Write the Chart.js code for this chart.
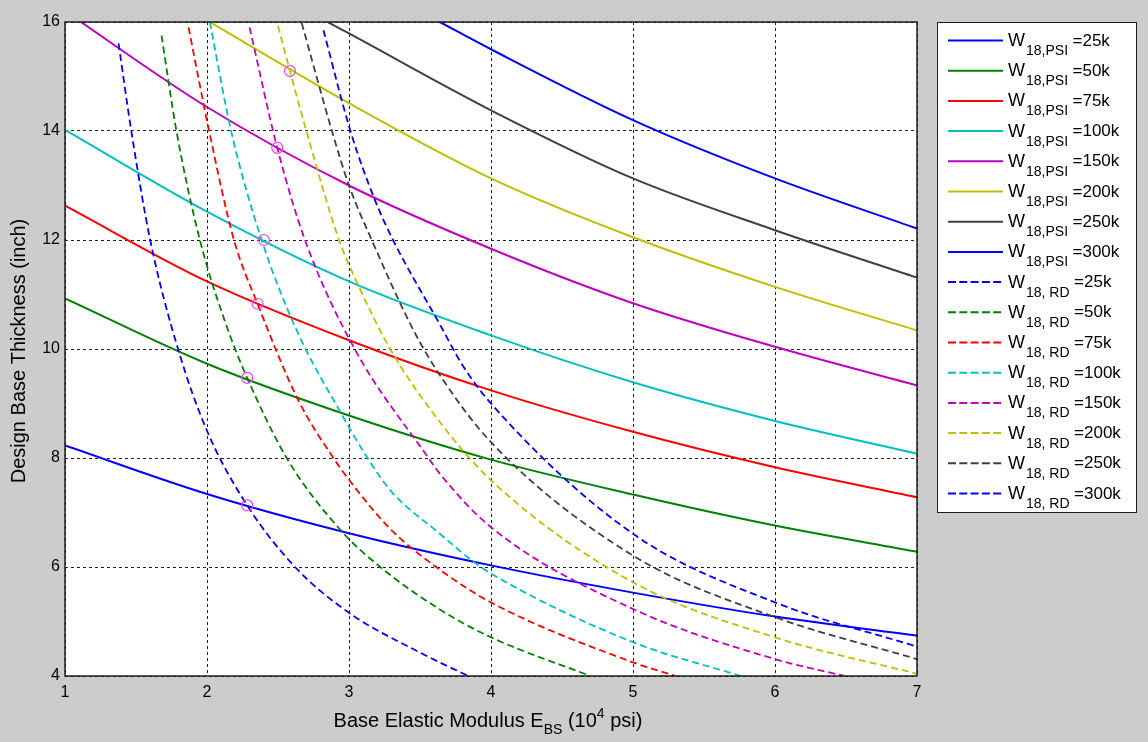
<!DOCTYPE html>
<html>
<head>
<meta charset="utf-8">
<script src="https://cdn.jsdelivr.net/npm/chart.js@4.4.1/dist/chart.umd.min.js"></script>
<style>
  html, body { margin: 0; padding: 0; background: #cccccc; }
</style>
</head>
<body>
<canvas id="chart" width="1148" height="742"></canvas>
<script>
// W18 loads, one solid (PSI) and one dashed (RD) curve per load
const loads = ['25k', '50k', '75k', '100k', '150k', '200k', '250k', '300k'];
const colors = ['#0000ff', '#008000', '#ff0000', '#00bfbf', '#bf00bf', '#bfbf00', '#404040', '#0000ff'];

// [E_BS (10^4 psi), thickness (inch)]
const psi25  = [[1, 8.23], [2, 7.34], [3, 6.62], [4, 6.03], [5, 5.53], [6, 5.09], [7, 4.74]];
const psi50  = [[1, 10.93], [2, 9.73], [3, 8.78], [4, 7.97], [5, 7.33], [6, 6.76], [7, 6.28]];
const psi75  = [[1, 12.63], [2, 11.24], [3, 10.16], [4, 9.24], [5, 8.48], [6, 7.83], [7, 7.28]];
const psi100 = [[1, 14.02], [2, 12.52], [3, 11.24], [4, 10.25], [5, 9.39], [6, 8.68], [7, 8.08]];
const psi150 = [[1, 16.2], [2, 14.44], [3, 13.0], [4, 11.84], [5, 10.84], [6, 10.04], [7, 9.33]];
const psi200 = [[1.98, 16.06], [3, 14.51], [4, 13.13], [5, 12.05], [6, 11.14], [7, 10.34]];
const psi250 = [[2.85, 16.0], [3, 15.79], [4, 14.38], [5, 13.13], [6, 12.18], [7, 11.31]];
const psi300 = [[3.64, 16.0], [4, 15.5], [5, 14.2], [6, 13.13], [7, 12.21]];

const rd25  = [[1.377, 15.61], [1.467, 14], [1.6, 12], [1.796, 10], [2.0, 8.5], [2.283, 7.13], [2.62, 6.0], [3.0, 5.16], [3.5, 4.43], [3.84, 4.0]];
const rd50  = [[1.68, 15.75], [1.785, 14], [1.95, 12], [2.149, 10.34], [2.283, 9.47], [2.561, 8.0], [2.95, 6.65], [3.22, 6.0], [3.64, 5.22], [4.0, 4.71], [4.7, 4.0]];
const rd75  = [[1.87, 15.9], [2.015, 14], [2.19, 12], [2.356, 10.83], [2.643, 9.06], [2.89, 8.0], [3.0, 7.6], [3.29, 6.7], [3.64, 5.95], [4.0, 5.35], [5.0, 4.25], [5.3, 4.0]];
const rd100 = [[2.02, 16.0], [2.17, 14], [2.385, 12], [2.632, 10.34], [2.94, 8.84], [3.13, 8.0], [3.3, 7.38], [3.64, 6.61], [3.855, 6.14], [4.0, 5.88], [5.0, 4.62], [5.76, 4.0]];
const rd150 = [[2.3, 15.9], [2.495, 13.69], [2.69, 12], [3.04, 10], [3.56, 8.0], [3.64, 7.71], [4.0, 6.73], [5.0, 5.23], [6.0, 4.31], [6.49, 4.0]];
const rd200 = [[2.5, 15.93], [2.584, 15.1], [2.7, 14], [2.93, 12], [3.065, 11.17], [3.29, 10], [3.64, 8.66], [4.0, 7.59], [5.0, 5.72], [6.0, 4.71], [7.0, 4.04]];
const rd250 = [[2.667, 15.98], [2.88, 14], [3.0, 13.0], [3.16, 12], [3.455, 10.34], [3.64, 9.52], [4.0, 8.29], [5.0, 6.21], [6.0, 5.08], [7.0, 4.31]];
const rd300 = [[2.82, 15.85], [3.01, 14], [3.18, 12.75], [3.31, 12], [3.64, 10.45], [3.8, 9.7], [4.0, 9.0], [5.0, 6.61], [6.0, 5.35], [7.0, 4.54]];

// design points where the PSI and RD curves of the same load cross
const crossings = [[2.283, 7.13], [2.283, 9.47], [2.356, 10.83], [2.4, 12.0], [2.495, 13.69], [2.584, 15.1]];

const xTicks = [1, 2, 3, 4, 5, 6, 7];
const yTicks = [4, 6, 8, 10, 12, 14, 16];

const psiCurves = [psi25, psi50, psi75, psi100, psi150, psi200, psi250, psi300];
const rdCurves = [rd25, rd50, rd75, rd100, rd150, rd200, rd250, rd300];

const FONT = "'Liberation Sans', Arial, Helvetica, sans-serif";
const DASH = [7, 4];
const toPts = arr => arr.map(p => ({ x: p[0], y: p[1] }));

const datasets = [];
psiCurves.forEach((d, i) => datasets.push({
  label: 'W18,PSI =' + loads[i], sub: '18,PSI', tail: '=' + loads[i],
  data: toPts(d), borderColor: colors[i], borderWidth: 2, showLine: true,
  pointRadius: 0, cubicInterpolationMode: 'monotone', clip: 0, order: 2
}));
rdCurves.forEach((d, i) => datasets.push({
  label: 'W18, RD =' + loads[i], sub: '18, RD', tail: '=' + loads[i],
  data: toPts(d), borderColor: colors[i], borderWidth: 1.8, borderDash: DASH, showLine: true,
  pointRadius: 0, cubicInterpolationMode: 'monotone', clip: 0, order: 1
}));
datasets.push({
  label: 'design', data: toPts(crossings), showLine: false, pointRadius: 5.5,
  pointBorderColor: '#ff3cff', pointBackgroundColor: 'rgba(0,0,0,0)', pointBorderWidth: 1.2, order: 0
});

function drawParts(ctx, parts, x, y) {
  parts.forEach(p => {
    ctx.font = p[1] + 'px ' + FONT;
    ctx.fillText(p[0], x, y + p[2]);
    x += ctx.measureText(p[0]).width;
  });
  return x;
}
function partsWidth(ctx, parts) {
  let w = 0;
  parts.forEach(p => { ctx.font = p[1] + 'px ' + FONT; w += ctx.measureText(p[0]).width; });
  return w;
}

const paper = {
  id: 'paper',
  beforeDraw(chart) {
    const { ctx, chartArea: a } = chart;
    ctx.save();
    ctx.fillStyle = '#cccccc';
    ctx.fillRect(0, 0, chart.width, chart.height);
    ctx.fillStyle = '#ffffff';
    ctx.fillRect(a.left, a.top, a.right - a.left, a.bottom - a.top);
    ctx.restore();
  },
  afterDatasetsDraw(chart) {
    const { ctx, chartArea: a } = chart;
    ctx.save();
    ctx.strokeStyle = '#1e1e1e';
    ctx.lineWidth = 1.5;
    ctx.strokeRect(a.left, a.top, a.right - a.left, a.bottom - a.top);
    ctx.restore();
  },
  afterDraw(chart) {
    const { ctx, chartArea: a } = chart;
    ctx.save();
    ctx.fillStyle = '#000';
    ctx.textBaseline = 'alphabetic';
    ctx.textAlign = 'left';

    // x axis title with subscript and superscript
    const xParts = [['Base Elastic Modulus E', 20, 0], ['BS', 14, 7], [' (10', 20, 0], ['4', 14, -9], [' psi)', 20, 0]];
    const w = partsWidth(ctx, xParts);
    drawParts(ctx, xParts, (a.left + a.right) / 2 - 3 - w / 2, 727);

    // y axis title
    ctx.save();
    ctx.translate(25, (a.top + a.bottom) / 2 + 2);
    ctx.rotate(-Math.PI / 2);
    ctx.textAlign = 'center';
    ctx.font = '20px ' + FONT;
    ctx.fillText('Design Base Thickness (inch)', 0, 0);
    ctx.restore();

    // legend box
    const lx = 937, ly = 22, lw = 199, lh = 490;
    ctx.fillStyle = '#ffffff';
    ctx.fillRect(lx, ly, lw, lh);
    ctx.strokeStyle = '#1e1e1e';
    ctx.lineWidth = 1;
    ctx.strokeRect(lx + 0.5, ly + 0.5, lw, lh);
    chart.data.datasets.forEach((ds, i) => {
      if (!ds.sub) return;
      const y = 40.5 + 30.2 * i;
      ctx.save();
      ctx.strokeStyle = ds.borderColor;
      ctx.lineWidth = 2;
      ctx.setLineDash(ds.borderDash ? [8, 3.3] : []);
      ctx.beginPath();
      ctx.moveTo(948, y);
      ctx.lineTo(1003, y);
      ctx.stroke();
      ctx.restore();
      ctx.fillStyle = '#000';
      ctx.textAlign = 'left';
      let x = drawParts(ctx, [['W', 18, 0]], 1008, y + 5.5);
      x = drawParts(ctx, [[ds.sub, 14, 0]], x + 1, y + 14.5);
      drawParts(ctx, [[ds.tail, 17, 0]], x + 4.5, y + 5);
    });
    ctx.restore();
  }
};

new Chart(document.getElementById('chart'), {
  type: 'scatter',
  data: { datasets: datasets },
  options: {
    responsive: false,
    animation: false,
    events: [],
    layout: { padding: { left: 0, top: 22, right: 231, bottom: 0 } },
    plugins: { legend: { display: false }, tooltip: { enabled: false } },
    scales: {
      x: {
        type: 'linear', min: 1, max: 7,
        afterFit: s => { s.height = 66; },
        afterBuildTicks: s => { s.ticks = xTicks.map(v => ({ value: v })); },
        ticks: { padding: 7, autoSkip: false, maxRotation: 0, color: '#000', font: { family: FONT, size: 16 } },
        grid: { color: '#1e1e1e', lineWidth: 1, drawTicks: false },
        border: { display: false, dash: [3, 3] }
      },
      y: {
        type: 'linear', min: 4, max: 16,
        afterFit: s => { s.width = 65; },
        afterBuildTicks: s => { s.ticks = yTicks.map(v => ({ value: v })); },
        ticks: { padding: 5, autoSkip: false, color: '#000', font: { family: FONT, size: 16 } },
        grid: { color: '#1e1e1e', lineWidth: 1, drawTicks: false },
        border: { display: false, dash: [3, 3] }
      }
    }
  },
  plugins: [paper]
});
</script>
</body>
</html>
